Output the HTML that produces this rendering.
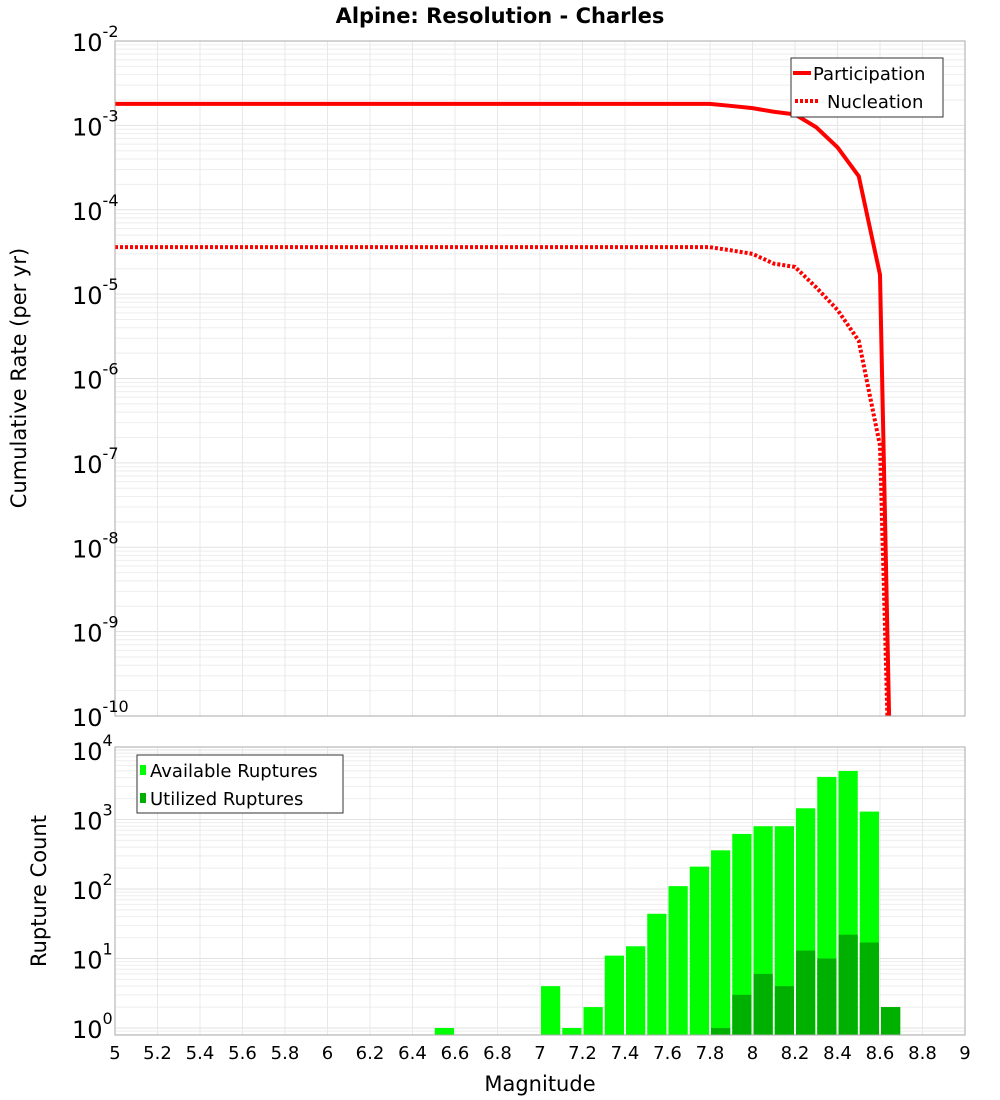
<!DOCTYPE html>
<html><head><meta charset="utf-8"><style>
html,body{margin:0;padding:0;background:#fff;overflow:hidden;width:1000px;height:1100px;}
svg{display:block;font-family:"DejaVu Sans","Liberation Sans",sans-serif;}
</style></head><body>
<svg id="c" width="1000" height="1100" xmlns="http://www.w3.org/2000/svg"></svg>
<script>
const magnitudes = [5.0,7.8,7.9,8.0,8.1,8.2,8.3,8.4,8.5,8.6,8.7];
const participation = [1.8e-3,1.8e-3,1.7e-3,1.6e-3,1.45e-3,1.35e-3,9.5e-4,5.5e-4,2.5e-4,1.7e-5,1e-17];
const nucleation = [3.6e-5,3.6e-5,3.3e-5,3.0e-5,2.3e-5,2.1e-5,1.2e-5,6.5e-6,2.8e-6,1.6e-7,1e-16];
const binStarts = [6.5,7.0,7.1,7.2,7.3,7.4,7.5,7.6,7.7,7.8,7.9,8.0,8.1,8.2,8.3,8.4,8.5,8.6];
const available = [1,4,1,2,11,15,44,110,210,360,620,800,800,1450,4100,5000,1300,2];
const utilized = [0,0,0,0,0,0,0,0,0,1,3,6,4,13,10,22,17,2];
const xTicks = ["5","5.2","5.4","5.6","5.8","6","6.2","6.4","6.6","6.8","7","7.2","7.4","7.6","7.8","8","8.2","8.4","8.6","8.8","9"];
const topExps = [-2,-3,-4,-5,-6,-7,-8,-9,-10];
const botExps = [4,3,2,1,0];

const NS="http://www.w3.org/2000/svg", svg=document.getElementById('c');
function mk(t,a,p){const e=document.createElementNS(NS,t);for(const k in a)e.setAttribute(k,a[k]);(p||svg).appendChild(e);return e;}
const L=115,R=965;
const xs=m=>L+(m-5)/4*(R-L);
const T1=41,B1=716; const yTop=v=>T1+(-2-Math.log10(v))/8*(B1-T1);
const T2=747,B2=1035; const yBot=v=>1028-Math.log10(v)*69.5;

function grid(T,B,ymap,dmin,dmax,name){
  const g=mk('g',{});
  for(let d=dmin;d<dmax;d++)for(let k=1;k<10;k++){const y=ymap(k*Math.pow(10,d));if(y<T||y>B)continue;
    mk('line',{x1:L,x2:R,y1:y,y2:y,stroke:k==1?'#e2e2e2':'#eeeeee','stroke-width':1},g);}
  xTicks.forEach(t=>{const x=xs(+t);mk('line',{x1:x,x2:x,y1:T,y2:B,stroke:'#e8e8e8','stroke-width':1},g);});
}
grid(T1,B1,yTop,-10,-1,'top-grid');
grid(T2,B2,yBot,-1,5,'bottom-grid');

let t=mk('text',{x:500,y:23,'text-anchor':'middle','font-size':21,'font-weight':'bold'});t.textContent='Alpine: Resolution - Charles';


const cp=mk('clipPath',{id:'cp1'});mk('rect',{x:L,y:T1,width:R-L,height:B1-T1},cp);
function line(vals,dash,name){const p=mk('polyline',{points:magnitudes.map((m,i)=>xs(m)+','+yTop(vals[i])).join(' '),fill:'none',stroke:'#ff0000','stroke-width':4,'clip-path':'url(#cp1)'});
  if(dash)p.setAttribute('stroke-dasharray','3,2');}
line(nucleation,true,'nucleation-line');
line(participation,false,'participation-line');

binStarts.forEach((m,i)=>{
  const x=xs(m)+1,w=xs(m+0.1)-xs(m)-2;
  if(available[i]>0){const r=mk('rect',{x:x,y:yBot(available[i]),width:w,height:B2-yBot(available[i]),fill:'#00ff00'});
    }
  if(utilized[i]>0){const r=mk('rect',{x:x,y:yBot(utilized[i]),width:w,height:B2-yBot(utilized[i]),fill:'#00b000'});
    }
});

let f=mk('rect',{x:L,y:T1,width:R-L,height:B1-T1,fill:'none',stroke:'#aaa'});
f=mk('rect',{x:L,y:T2,width:R-L,height:B2-T2,fill:'none',stroke:'#aaa'});

function ylab(e,y,name){const tx=mk('text',{x:72,y:y+10,'font-size':24});tx.textContent='10';
  const s=mk('tspan',{dy:-14,'font-size':16});s.textContent=String(e);tx.appendChild(s);
  }
topExps.forEach(e=>ylab(e,yTop(Math.pow(10,e)),'top-y-tick-label'));
botExps.forEach(e=>ylab(e,yBot(Math.pow(10,e)),'bottom-y-tick-label'));

xTicks.forEach(s=>{const tx=mk('text',{x:xs(+s),y:1059,'text-anchor':'middle','font-size':18});tx.textContent=s;
  });
t=mk('text',{x:540,y:1091,'text-anchor':'middle','font-size':21});t.textContent='Magnitude';

t=mk('text',{x:0,y:0,'text-anchor':'middle','font-size':21,transform:'translate(26,378) rotate(-90)'});t.textContent='Cumulative Rate (per yr)';

t=mk('text',{x:0,y:0,'text-anchor':'middle','font-size':21,transform:'translate(46,891) rotate(-90)'});t.textContent='Rupture Count';


let g=mk('g',{});
mk('rect',{x:791,y:58,width:152,height:59,fill:'#fff',stroke:'#333'},g);
mk('line',{x1:793,x2:811,y1:73,y2:73,stroke:'#f00','stroke-width':4},g);
mk('line',{x1:795,x2:820,y1:101,y2:101,stroke:'#f00','stroke-width':4,'stroke-dasharray':'3,2'},g);
t=mk('text',{x:813,y:80,'font-size':18},g);t.textContent='Participation';
t=mk('text',{x:827,y:108,'font-size':18},g);t.textContent='Nucleation';

g=mk('g',{});
mk('rect',{x:137,y:755,width:206,height:58,fill:'#fff',stroke:'#333'},g);
mk('rect',{x:140,y:765,width:6,height:10,fill:'#00ff00'},g);
mk('rect',{x:140,y:793,width:6,height:10,fill:'#00b000'},g);
t=mk('text',{x:150,y:777,'font-size':18},g);t.textContent='Available Ruptures';
t=mk('text',{x:150,y:805,'font-size':18},g);t.textContent='Utilized Ruptures';
</script>
</body></html>
